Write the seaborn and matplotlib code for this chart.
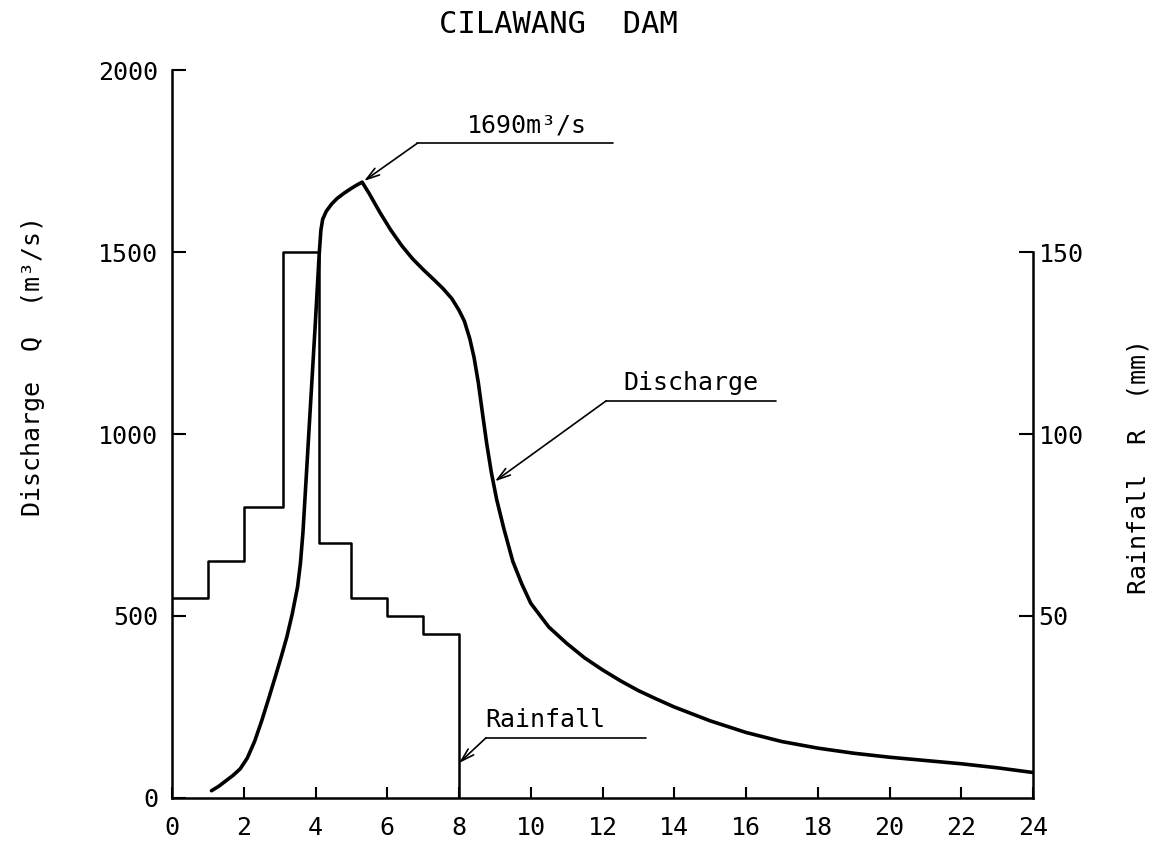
import numpy as np
import pandas as pd
import matplotlib
matplotlib.use('Agg')
import matplotlib.pyplot as plt
import seaborn as sns

sns.set_theme(style='white', context='paper')
plt.rcParams['font.family'] = ['DejaVu Sans Mono', 'DejaVu Sans']

# discharge hydrograph (hours, m3/s)
q_hours = [1.1, 1.3, 1.5, 1.7, 1.9, 2.1, 2.3, 2.5, 2.7, 2.9, 3.05, 3.2, 3.35,
           3.5, 3.58, 3.65, 3.72, 3.85, 4.0, 4.1, 4.15, 4.2, 4.3, 4.45, 4.6,
           4.8, 5.0, 5.15, 5.3, 5.5, 5.8, 6.1, 6.4, 6.7, 7.0, 7.3, 7.55, 7.8,
           8.0, 8.15, 8.3, 8.42, 8.54, 8.65, 8.77, 8.9, 9.05, 9.25, 9.5, 9.75,
           10.0, 10.5, 11.0, 11.5, 12.0, 12.5, 13.0, 13.5, 14.0, 15.0, 16.0,
           17.0, 18.0, 19.0, 20.0, 21.0, 22.0, 23.0, 24.0]
q_vals = [20, 32, 47, 62, 80, 110, 155, 212, 275, 340, 390, 442, 505,
          580, 645, 730, 846, 1063, 1313, 1490, 1560, 1590, 1612, 1632, 1647,
          1662, 1675, 1684, 1692, 1660, 1608, 1560, 1518, 1482, 1452, 1424, 1400, 1372,
          1340, 1310, 1262, 1210, 1140, 1060, 975, 895, 820, 740, 650, 588,
          535, 470, 425, 385, 352, 322, 295, 272, 250, 212, 180,
          155, 137, 123, 112, 103, 94, 83, 70]

# rainfall hyetograph (hour of step start, mm)
rain_hours = [0, 1, 2, 3.1, 4.1, 5, 6, 7, 8]
rain_mm = [55, 65, 80, 150, 70, 55, 50, 45, 0]

x_ticks = list(range(0, 25, 2))
q_ticks = [0, 500, 1000, 1500, 2000]
q_ticklabels = ['0', '500', '1000', '1500', '2000']
r_ticks = [50, 100, 150]

# annotation: label, text x, tip, elbow, end of underline
notes = [('1690m³/s', 9.9, (5.35, 1695), (6.84, 1799), (12.3, 1799)),
         ('Discharge', 14.45, (9.0, 870), (12.1, 1091), (16.85, 1091)),
         ('Rainfall', 10.4, (8.0, 96), (8.75, 165), (13.2, 165))]

fig = plt.figure(figsize=(11.56, 8.51), dpi=100)
ax = fig.add_axes([0.1488, 0.0623, 0.7448, 0.8554])
ax2 = ax.twinx()

qdf = pd.DataFrame({'t': q_hours, 'Q': q_vals})
rdf = pd.DataFrame({'t': rain_hours, 'R': rain_mm})

sns.lineplot(x='t', y='Q', data=qdf, ax=ax, color='black', lw=2.6,
             sort=False, estimator=None)
sns.lineplot(x='t', y='R', data=rdf, ax=ax2, color='black', lw=1.8,
             drawstyle='steps-post', estimator=None)

ax.set_xlim(0, 24)
ax.set_ylim(0, 2000)
ax2.set_ylim(0, 200)

ax.set_xticks(x_ticks)
ax.set_yticks(q_ticks)
ax.set_yticklabels(q_ticklabels)
ax2.set_yticks(r_ticks)

for s in ['top', 'right']:
    ax.spines[s].set_visible(False)
for s in ['top', 'left', 'bottom']:
    ax2.spines[s].set_visible(False)
for s in ['left', 'bottom']:
    ax.spines[s].set_linewidth(1.8)
    ax.spines[s].set_color('black')
ax2.spines['right'].set_linewidth(1.8)
ax2.spines['right'].set_color('black')
ax2.spines['right'].set_bounds(0, 150)

ax.tick_params(axis='x', direction='in', length=8, width=1.5, pad=13,
               labelsize=18, colors='black', bottom=True)
ax.tick_params(axis='y', direction='in', length=10, width=1.5, pad=10,
               labelsize=18, colors='black', left=True)
ax2.tick_params(axis='y', direction='in', length=10, width=1.5, pad=4,
                labelsize=18, colors='black', right=True)

ax.set_xlabel('')
ax.set_ylabel('Discharge  Q  (m³/s)', fontsize=18, color='black')
ax.yaxis.set_label_coords(-0.161, 0.593)
ax2.set_ylabel('Rainfall  R  (mm)', fontsize=18, color='black', rotation=90)
ax2.yaxis.set_label_coords(1.122, 0.455)
for lab in [ax.yaxis.label, ax2.yaxis.label]:
    lab.set_ha('center')
    lab.set_va('center')

for label, tx, tip, elbow, end in notes:
    ax.annotate('', xy=tip, xytext=elbow, xycoords='data',
                arrowprops=dict(arrowstyle='->,head_length=1.0,head_width=0.3',
                                color='black', lw=1.2, shrinkA=0, shrinkB=0))
    ax.plot([elbow[0], end[0]], [elbow[1], end[1]], color='black', lw=1.2)
    ax.text(tx, elbow[1] + 16, label, ha='center', va='bottom',
            fontsize=18, color='black')

fig.text(0.483, 0.971, 'CILAWANG  DAM', ha='center', va='center',
         fontsize=22, color='black')

fig.savefig('out.png', dpi=100)
plt.close(fig)
